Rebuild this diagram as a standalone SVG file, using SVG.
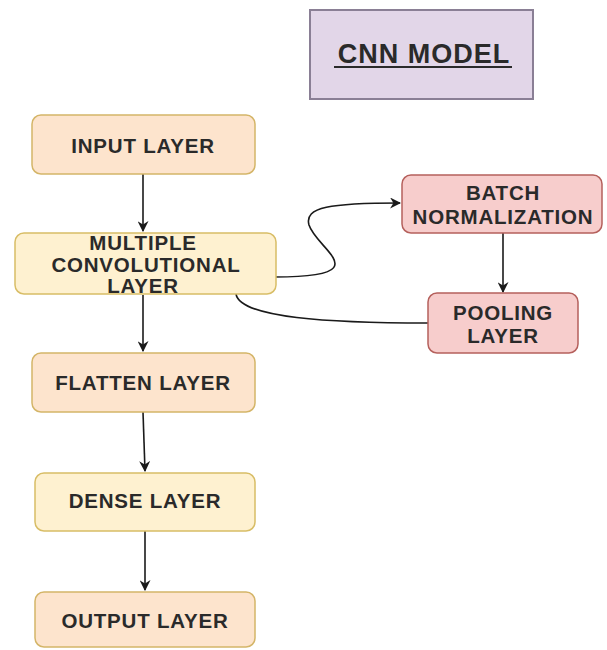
<svg xmlns="http://www.w3.org/2000/svg" width="607" height="650" viewBox="0 0 607 650">
<style>
.t{font-family:"Liberation Sans",Arial,sans-serif;font-weight:bold;font-size:20.5px;letter-spacing:0.8px;fill:#2a2a2a;text-anchor:middle;dominant-baseline:central}
.peach{fill:#fde4cd;stroke:#d4b568;stroke-width:1.5}
.yel{fill:#fef1d0;stroke:#d8bd66;stroke-width:1.5}
.red{fill:#f7cdcc;stroke:#b5605c;stroke-width:1.5}
.pur{fill:#e2d6e8;stroke:#8a7f95;stroke-width:2}
.c{fill:none;stroke:#1a1a1a;stroke-width:1.6}
</style>
<defs>
<marker id="ah" viewBox="0 0 10 10" refX="9" refY="5" markerWidth="11" markerHeight="11" markerUnits="userSpaceOnUse" orient="auto">
<path d="M0,0 L10,5 L0,10 L3,5 Z" fill="#1a1a1a"/>
</marker>
</defs>
<rect width="607" height="650" fill="#fff"/>
<g id="title">
<rect class="pur" x="310" y="10" width="223" height="89"/>
<text class="t" x="424" y="54" style="font-size:27px;letter-spacing:1px">CNN MODEL</text>
<line x1="334" y1="67" x2="512" y2="67" stroke="#2a2a2a" stroke-width="2"/>
</g>
<g id="connectors">
<path class="c" d="M143,174 L143,231" marker-end="url(#ah)"/>
<path class="c" d="M143,295 L143,351" marker-end="url(#ah)"/>
<path class="c" d="M143,412 L145,471" marker-end="url(#ah)"/>
<path class="c" d="M145,531 L145,590" marker-end="url(#ah)"/>
<path class="c" d="M503,233 L503,292" marker-end="url(#ah)"/>
<path class="c" d="M275,277 C380,277 317,250 309,225 C304,207 330,203 400,203" marker-end="url(#ah)"/>
<path class="c" d="M428,323 C330,323 240,318 236,294"/>
</g>
<g id="input">
<rect class="peach" x="32" y="115" width="223" height="59" rx="9"/>
<text class="t" x="143" y="145">INPUT LAYER</text>
</g>
<g id="conv">
<rect class="yel" x="15" y="233" width="261" height="61" rx="9"/>
<text class="t" x="143" y="242">MULTIPLE</text>
<text class="t" x="146" y="264">CONVOLUTIONAL</text>
<text class="t" x="143" y="285">LAYER</text>
</g>
<g id="batch">
<rect class="red" x="402" y="175" width="200" height="58" rx="9"/>
<text class="t" x="503" y="192">BATCH</text>
<text class="t" x="503" y="216">NORMALIZATION</text>
</g>
<g id="pooling">
<rect class="red" x="428" y="293" width="150" height="60" rx="9"/>
<text class="t" x="503" y="312">POOLING</text>
<text class="t" x="503" y="335">LAYER</text>
</g>
<g id="flatten">
<rect class="peach" x="32" y="353" width="223" height="59" rx="9"/>
<text class="t" x="143" y="382">FLATTEN LAYER</text>
</g>
<g id="dense">
<rect class="yel" x="35" y="473" width="220" height="58" rx="9"/>
<text class="t" x="145" y="500">DENSE LAYER</text>
</g>
<g id="output">
<rect class="peach" x="35" y="592" width="220" height="55" rx="9"/>
<text class="t" x="145" y="620">OUTPUT LAYER</text>
</g>
</svg>
